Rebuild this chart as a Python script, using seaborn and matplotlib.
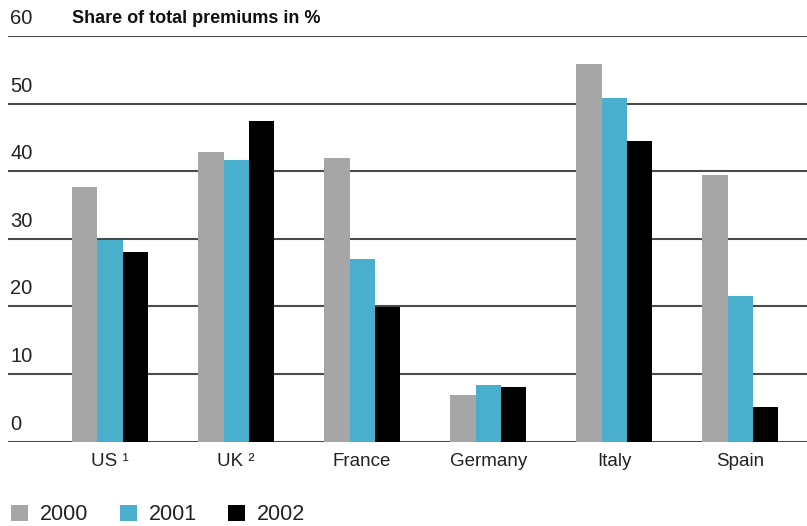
import numpy as np
import pandas as pd
import matplotlib
matplotlib.use("Agg")
import matplotlib.pyplot as plt
import matplotlib.transforms as mtransforms
import seaborn as sns

# Share of total premiums in % by country and year
countries = ["US \u00b9", "UK \u00b2", "France", "Germany", "Italy", "Spain"]
years = ["2000", "2001", "2002"]
share_2000 = [37.6, 42.8, 41.9, 6.9, 55.8, 39.4]
share_2001 = [29.9, 41.6, 27.0, 8.4, 50.9, 21.5]
share_2002 = [28.0, 47.5, 19.9, 8.1, 44.4, 5.1]
y_ticks = [0, 10, 20, 30, 40, 50, 60]

df = pd.DataFrame({
    "country": countries * 3,
    "year": [y for y in years for _ in countries],
    "share": share_2000 + share_2001 + share_2002,
})

palette = {"2000": "#a6a6a6", "2001": "#4aafcd", "2002": "#000000"}

sns.set_style("white")
plt.rcParams["font.family"] = ["Liberation Sans", "DejaVu Sans"]

fig = plt.figure(figsize=(8.07, 5.26), dpi=100)
ax = fig.add_axes([8 / 807, 1 - 441.7 / 526, 799 / 807, (441.7 - 36) / 526])

sns.barplot(data=df, x="country", y="share", hue="year", order=countries,
            hue_order=years, palette=palette, width=0.6, gap=0,
            saturation=1, linewidth=0, ax=ax, legend=True)

ax.set_ylim(0, 60)
ax.set_xlim(-0.81, 5.53)
ax.set_yticks(y_ticks)
ax.set_yticklabels([])
ax.set_axisbelow(True)
ax.yaxis.grid(True, color="#4a4a4a", linewidth=1.5)
ax.tick_params(axis="both", length=0)
ax.tick_params(axis="x", pad=8, labelsize=13.5, labelcolor="#222222")
ax.set_xlabel("")
ax.set_ylabel("")
for s in ax.spines.values():
    s.set_visible(False)

# tick labels sit inside the plot, just above each gridline
trans = mtransforms.blended_transform_factory(ax.transAxes, ax.transData)
for v in y_ticks:
    ax.text(0.003, v + 1.2, str(v), transform=trans, ha="left", va="bottom",
            fontsize=14.5, color="#222222")
ax.text(0.08, 61.3, "Share of total premiums in %", transform=trans,
        ha="left", va="bottom", fontsize=13, fontweight="bold", color="#111111")

handles, labels = ax.get_legend_handles_labels()
ax.get_legend().remove()
fig.legend(handles, labels, loc="center left",
           bbox_to_anchor=(11 / 807, 1 - 515 / 526),
           ncol=3, frameon=False, fontsize=15.5, handlelength=0.79,
           handleheight=0.79, handletextpad=0.56, columnspacing=1.45,
           borderpad=0, borderaxespad=0, labelcolor="#222222")

fig.savefig("out.png", dpi=100)
